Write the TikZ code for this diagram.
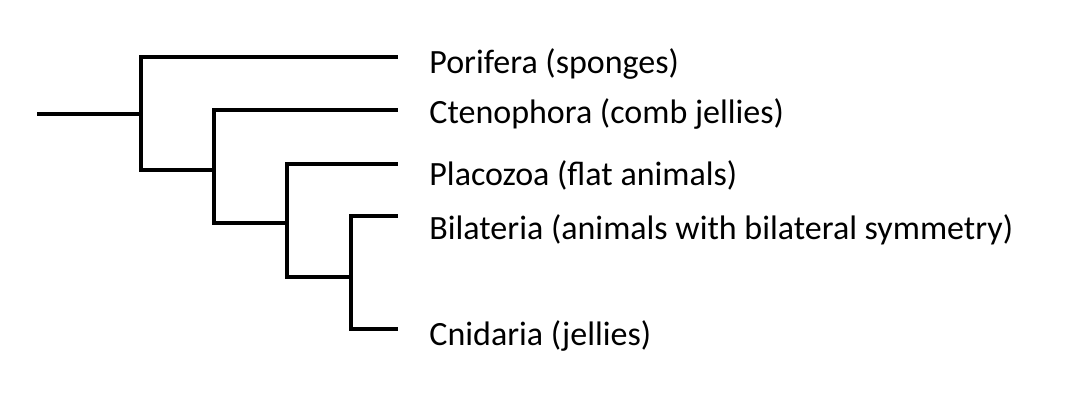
\documentclass[tikz,border=0pt]{standalone}
\usepackage{fontspec}
\setmainfont{Carlito}
\begin{document}
\begin{tikzpicture}[x=0.5pt,y=-0.5pt,
  branch/.style={line width=1.9pt,line cap=butt,line join=miter},
  taxon/.style={anchor=base west,inner sep=0pt,font=\fontsize{17}{19}\selectfont}]
\useasboundingbox[fill=white] (0,0) rectangle (1080,400);
% internal nodes and tips
\coordinate (root) at (37,114);
\coordinate (n1) at (141,114);
\coordinate (n2) at (214,170);
\coordinate (n3) at (287,223);
\coordinate (n4) at (351,277);
\coordinate (t1) at (398,57);
\coordinate (t2) at (398,110);
\coordinate (t3) at (398,164);
\coordinate (t4) at (398,216);
\coordinate (t5) at (398,329);
% labels
\node[taxon] (l1) at (429,73.5) {Porifera (sponges)};
\node[taxon] (l2) at (429,124) {Ctenophora (comb jellies)};
\node[taxon] (l3) at (429,186) {Placozoa (flat animals)};
\node[taxon] (l4) at (429,240) {Bilateria (animals with bilateral symmetry)};
\node[taxon] (l5) at (429,345.5) {Cnidaria (jellies)};
% branches
\draw[branch] (root) -- (n1);
\draw[branch] (n1) |- (t1);
\draw[branch] (n1) |- (n2);
\draw[branch] (n2) |- (t2);
\draw[branch] (n2) |- (n3);
\draw[branch] (n3) |- (t3);
\draw[branch] (n3) |- (n4);
\draw[branch] (n4) |- (t4);
\draw[branch] (n4) |- (t5);
\end{tikzpicture}
\end{document}
